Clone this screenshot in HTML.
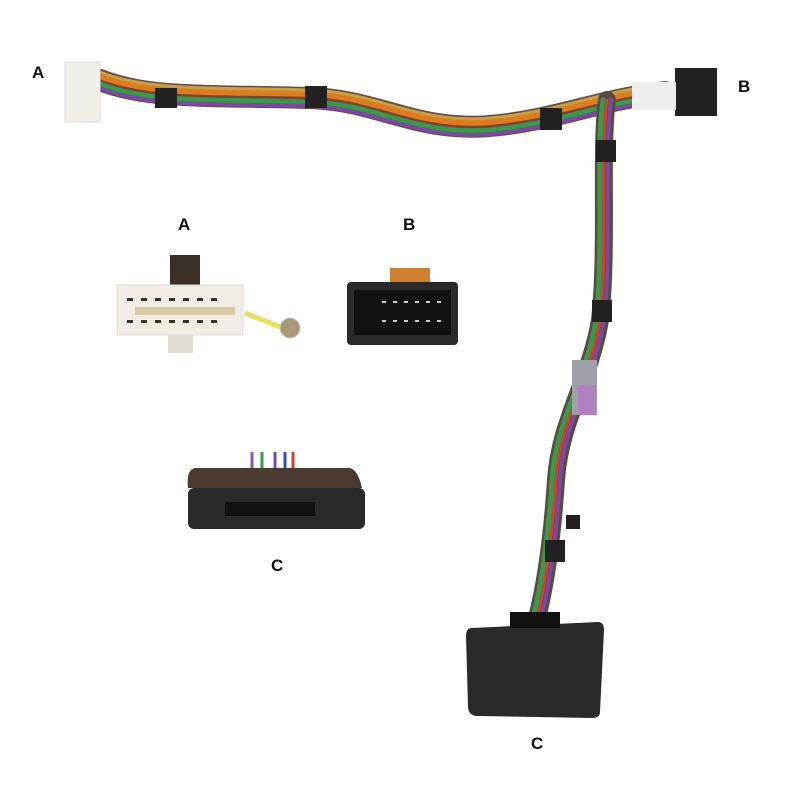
<!DOCTYPE html>
<html><head><meta charset="utf-8"><style>
html,body{margin:0;padding:0;background:#fff;width:800px;height:800px;overflow:hidden}
svg text{font-family:"Liberation Sans",sans-serif;font-weight:bold;font-size:17px;fill:#111}
</style></head><body>
<svg width="800" height="800" viewBox="0 0 800 800" xmlns="http://www.w3.org/2000/svg">
<rect width="800" height="800" fill="#fff"/>
<g fill="none" stroke-linecap="round">
<path d="M100,80 C150,100 220,95 310,98 C380,100 420,135 500,125 C560,118 600,100 665,92" stroke="#6a4a3a" stroke-width="22"/>
<path d="M100,76 C150,96 220,91 310,94 C380,96 420,131 500,121 C560,114 600,96 665,88" stroke="#e07a20" stroke-width="6"/>
<path d="M100,84 C150,104 220,99 310,102 C380,104 420,139 500,129 C560,122 600,104 665,96" stroke="#3a9a4a" stroke-width="5"/>
<path d="M100,88 C150,108 220,103 310,106 C380,108 420,143 500,133 C560,126 600,108 665,100" stroke="#7a4aa0" stroke-width="4"/>
<path d="M100,72 C150,92 220,87 310,90 C380,92 420,127 500,117 C560,110 600,92 665,84" stroke="#c8a040" stroke-width="3"/>
<path d="M607,100 C600,150 608,250 600,320 C590,380 560,420 556,480 C552,540 545,590 535,625" stroke="#5a4a40" stroke-width="18"/>
<path d="M603,100 C596,150 604,250 596,320 C586,380 556,420 552,480 C548,540 541,590 531,625" stroke="#3a9a4a" stroke-width="5"/>
<path d="M611,100 C604,150 612,250 604,320 C594,380 564,420 560,480 C556,540 549,590 539,625" stroke="#7a4aa0" stroke-width="4"/>
<path d="M607,100 C600,150 608,250 600,320 C590,380 560,420 556,480 C552,540 545,590 535,625" stroke="#d04030" stroke-width="3"/>
</g>
<g fill="#222">
<rect x="155" y="88" width="22" height="20"/><rect x="305" y="86" width="22" height="22"/>
<rect x="540" y="108" width="22" height="22"/><rect x="596" y="140" width="20" height="22"/>
<rect x="592" y="300" width="20" height="22"/><rect x="545" y="540" width="20" height="22"/>
</g>
<rect x="65" y="62" width="35" height="60" fill="#f2efe8" stroke="#ddd"/>
<rect x="675" y="68" width="42" height="48" fill="#222"/>
<rect x="632" y="82" width="44" height="28" fill="#eee"/>
<rect x="572" y="360" width="25" height="55" fill="#a0a0a8"/>
<rect x="578" y="385" width="18" height="30" fill="#b080c0"/>
<rect x="566" y="515" width="14" height="14" fill="#222"/>
<path d="M472,628 L598,622 Q604,622 604,630 L600,712 Q600,718 592,718 L478,716 Q468,716 468,706 L466,636 Q466,628 472,628Z" fill="#2a2a2a"/>
<rect x="510" y="612" width="50" height="16" fill="#111"/>
<!-- A detail -->
<rect x="170" y="255" width="30" height="30" fill="#3a3028"/>
<rect x="117" y="285" width="126" height="50" fill="#f1ede4" stroke="#ddd"/>
<g fill="#3a3028">
<rect x="127" y="298" width="6" height="3"/><rect x="141" y="298" width="6" height="3"/><rect x="155" y="298" width="6" height="3"/><rect x="169" y="298" width="6" height="3"/><rect x="183" y="298" width="6" height="3"/><rect x="197" y="298" width="6" height="3"/><rect x="211" y="298" width="6" height="3"/>
<rect x="127" y="320" width="6" height="3"/><rect x="141" y="320" width="6" height="3"/><rect x="155" y="320" width="6" height="3"/><rect x="169" y="320" width="6" height="3"/><rect x="183" y="320" width="6" height="3"/><rect x="197" y="320" width="6" height="3"/><rect x="211" y="320" width="6" height="3"/>
</g>
<rect x="135" y="307" width="100" height="8" fill="#d8c8a8"/>
<rect x="168" y="335" width="25" height="18" fill="#e0dcd4"/>
<line x1="245" y1="313" x2="283" y2="328" stroke="#e8e060" stroke-width="5"/>
<circle cx="290" cy="328" r="10" fill="#a89878" stroke="#ccc"/>
<!-- B detail -->
<rect x="390" y="268" width="40" height="16" fill="#d08030"/>
<rect x="347" y="282" width="111" height="63" rx="4" fill="#2a2a2a"/>
<rect x="354" y="290" width="97" height="45" fill="#111"/>
<g fill="#ccc">
<rect x="382" y="301" width="4" height="2"/><rect x="393" y="301" width="4" height="2"/><rect x="404" y="301" width="4" height="2"/><rect x="415" y="301" width="4" height="2"/><rect x="426" y="301" width="4" height="2"/><rect x="437" y="301" width="4" height="2"/>
<rect x="382" y="320" width="4" height="2"/><rect x="393" y="320" width="4" height="2"/><rect x="404" y="320" width="4" height="2"/><rect x="415" y="320" width="4" height="2"/><rect x="426" y="320" width="4" height="2"/><rect x="437" y="320" width="4" height="2"/>
</g>
<g stroke-width="3"><line x1="252" y1="452" x2="252" y2="470" stroke="#8a5aa0"/><line x1="262" y1="452" x2="262" y2="470" stroke="#3a9a4a"/><line x1="275" y1="452" x2="275" y2="470" stroke="#7a4aa0"/><line x1="285" y1="452" x2="285" y2="470" stroke="#3050c0"/><line x1="293" y1="452" x2="293" y2="470" stroke="#d04030"/></g>
<path d="M195,468 L350,468 Q358,470 362,488 L188,488 Q186,470 195,468Z" fill="#4a3a30"/>
<rect x="188" y="488" width="177" height="41" rx="6" fill="#2a2a2a"/>
<rect x="225" y="502" width="90" height="14" fill="#111"/>
<text x="32" y="78">A</text>
<text x="738" y="92">B</text>
<text x="178" y="230">A</text>
<text x="403" y="230">B</text>
<text x="271" y="571">C</text>
<text x="531" y="749">C</text>
</svg>
</body></html>
